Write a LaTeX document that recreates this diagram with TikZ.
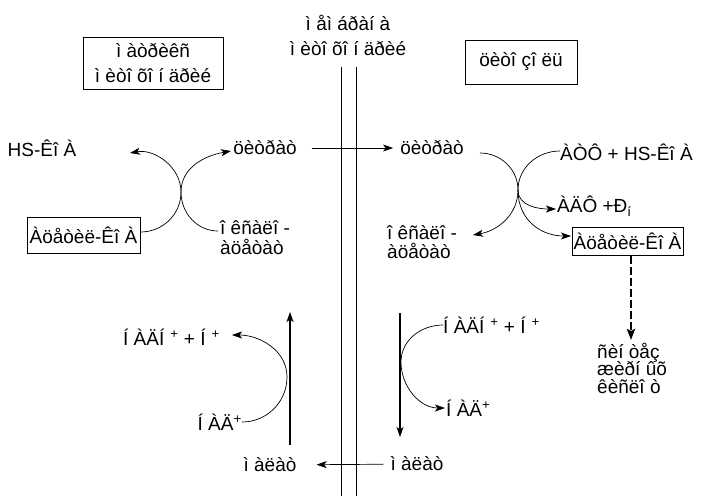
\documentclass[tikz,border=0pt]{standalone}
\usepackage{fontspec}
\setmainfont{Liberation Sans}
\usetikzlibrary{arrows.meta}
\begin{document}
\begin{tikzpicture}[x=1pt,y=1pt,
  every node/.style={font=\fontsize{19}{22}\selectfont, inner sep=0pt},
  boxed/.style={draw, line width=1pt},
  con/.style={line width=0.7pt},
  strong/.style={line width=1.1pt},
  memb/.style={line width=0.9pt},
  tip/.style={-{Stealth[length=10pt,width=7pt,inset=2.5pt]}},
  rtip/.style={{Stealth[length=10pt,width=7pt,inset=2.5pt]}-},
  dashthick/.style={line width=2.6pt, dash pattern=on 8pt off 3pt, -{Stealth[length=11pt,width=8pt,inset=2pt]}}]
\useasboundingbox (0,0) rectangle (704,-496);
\fill[white] (0,0) rectangle (704,-496);

% labels
\node[boxed, minimum width=140pt, minimum height=52pt, align=center] (lbox) at (153,-63) {ì àòðèêñ\\[3pt]ì èòî õî í äðèé};
\node[align=center] (mem) at (348,-35) {ì åì áðàí à\\[3pt]ì èòî õî í äðèé};
\node[boxed, minimum width=112pt, minimum height=44pt] (rbox) at (521,-62) {öèòî çî ëü};

\node (hs) at (42,-148) {HS-Êî À};
\node (cit1) at (265,-148) {öèòðàò};
\node[boxed, minimum width=113pt, minimum height=36pt] (acl) at (83.5,-235) {Àöåòèë-Êî À};
\node[anchor=west, align=left] (oxl) at (220,-238) {î êñàëî -\\[-2pt]àöåòàò};

\node (cit2) at (432,-148) {öèòðàò};
\node[anchor=west] (atp) at (560,-152) {ÀÒÔ + HS-Êî À};
\node[anchor=west] (adp) at (557,-206) {ÀÄÔ +Ð\textsubscript{í}};
\node[anchor=west, align=left] (oxr) at (387,-242) {î êñàëî -\\[-3pt]àöåòàò};
\node[boxed, minimum width=111pt, minimum height=28pt] (acr) at (627.5,-241) {Àöåòèë-Êî À};
\node[anchor=west, align=left] (syn) at (597,-368) {ñèí òåç\\[-4.5pt]æèðí ûõ\\[-4.5pt]êèñëî ò};

\node[anchor=west] (nadh1) at (123,-337) {Í ÀÄÍ\hspace{6pt}\textsuperscript{+} + Í\hspace{6pt}\textsuperscript{+}};
\node[anchor=east] (nad1) at (242,-422) {Í ÀÄ\textsuperscript{+}};
\node (mal1) at (270,-465) {ì àëàò};
\node (mal2) at (417,-464) {ì àëàò};
\node[anchor=west] (nadh2) at (443,-325) {Í ÀÄÍ\hspace{6pt}\textsuperscript{+} + Í\hspace{6pt}\textsuperscript{+}};
\node[anchor=west] (nad2) at (446,-408) {Í ÀÄ\textsuperscript{+}};

% membrane
\draw[memb] (341,-67) -- (341,-496);
\draw[memb] (356,-67) -- (356,-496);

% coordinates
\coordinate (cxL) at (181,-192);
\coordinate (hsT) at (130,-153);
\coordinate (citT) at (231,-151);
\coordinate (oxlE) at (218,-231);
\coordinate (cxR) at (518,-190);
\coordinate (oxrT) at (473,-235);
\coordinate (adpT) at (556,-209);
\coordinate (acrT) at (571,-236);
\coordinate (bL) at (287,-377);
\coordinate (nadh1T) at (232,-335);
\coordinate (bR) at (401,-362);
\coordinate (nad2T) at (445,-408);
\coordinate (upS) at (290,-445);
\coordinate (upE) at (290,-312);
\coordinate (dnS) at (400,-313);
\coordinate (dnE) at (400,-437);
\coordinate (synT) at (631,-340);

% left X
\draw[con,rtip] (hsT) to[out=10,in=90] (cxL) to[out=-90,in=180] (oxlE);
\draw[con,tip] ([yshift=3pt]acl.east) to[out=0,in=-90] (cxL) to[out=90,in=190] (citT);

% across membrane
\draw[con,tip,shorten <=15pt,shorten >=7pt] (cit1) -- (cit2);
\draw[con,tip,shorten <=7pt,shorten >=20pt] (mal2) -- (mal1);

% right X
\draw[con,tip] ([xshift=16pt,yshift=-5pt]cit2.east) to[out=0,in=90] (cxR) to[out=-90,in=10] (oxrT);
\draw[con,tip] ([yshift=1pt]atp.west) to[out=180,in=90] (cxR) to[out=-90,in=180] (adpT);
\draw[con,tip] (cxR) to[out=-90,in=180,looseness=1.1] (acrT);

% dashed to synthesis
\draw[dashthick] ([xshift=3.5pt]acr.south) -- (synT);

% bottom left
\draw[con,tip] (nad1.east) to[out=0,in=-90] (bL) to[out=90,in=0] (nadh1T);
\draw[strong,tip] (upS) -- (upE);

% bottom right
\draw[con,tip] (nadh2.west) to[out=180,in=90] (bR) to[out=-90,in=180] (nad2T);
\draw[strong,tip] (dnS) -- (dnE);
\end{tikzpicture}
\end{document}
